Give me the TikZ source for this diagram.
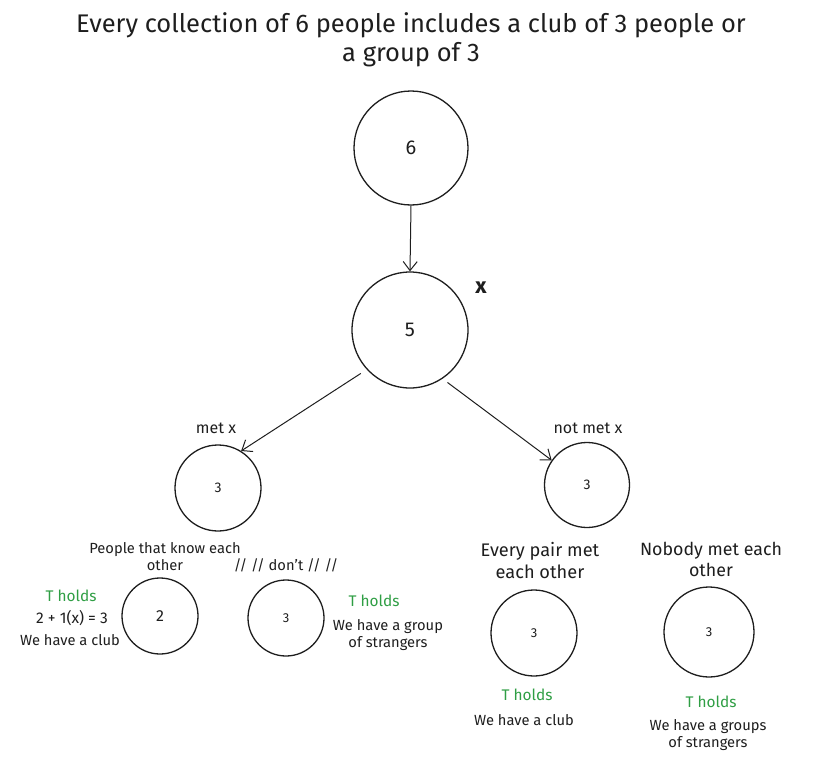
\documentclass[tikz,border=0pt]{standalone}
\usepackage{fontspec}
\setmainfont{Fira Sans}
\usetikzlibrary{arrows.meta}
\definecolor{exgreen}{HTML}{2F9E44}
\definecolor{ink}{HTML}{1E1E1E}
\tikzset{
  circ/.style={circle,draw=ink,line width=1.3pt,inner sep=0pt,text=ink},
  lbl/.style={text=ink,align=center,inner sep=0pt,font=\fontsize{14.7}{17}\selectfont},
  glbl/.style={text=exgreen,align=center,inner sep=0pt,font=\fontsize{15.4}{17}\selectfont},
  conn/.style={draw=ink,line width=1pt,-{Straight Barb[length=9pt,width=14pt,line width=1pt]}}
}
\begin{document}
\begin{tikzpicture}[x=1pt,y=-1pt]
\useasboundingbox (0,0) rectangle (822,784);
\node[lbl,font=\fontsize{25.5}{29}\selectfont] (title) at (411,40) {Every collection of 6 people includes a club of 3 people or\\a group of 3};
\node[circ,minimum size=114pt,font=\fontsize{20}{24}\selectfont] (n6) at (411,148) {6};
\node[circ,minimum size=116pt,font=\fontsize{20}{24}\selectfont] (n5) at (410,330) {5};
\node[lbl,font=\fontsize{22}{24}\selectfont\bfseries] (xm) at (481,288) {x};
\node[circ,minimum size=86pt,font=\fontsize{14}{17}\selectfont] (l3) at (218,488) {3};
\node[circ,minimum size=85pt,font=\fontsize{14}{17}\selectfont] (r3) at (587,485) {3};
\draw[conn] (n6.south) -- (n5.north);
\draw[conn] ([shift={(-5,5)}]n5.221) -- (l3.58);
\draw[conn] ([shift={(3,5)}]n5.-54) -- (r3.145);
\node[lbl,font=\fontsize{16}{18}\selectfont] (metx) at (216,428) {met x};
\node[lbl,font=\fontsize{16}{18}\selectfont] (notmetx) at (588,428) {not met x};
% left sub-branch
\node[lbl] (know) at (165,557) {People that know each\\other};
\node[lbl] (dont) at (286,565) {// // don't // //};
\node[circ,minimum size=76pt,font=\fontsize{16}{19}\selectfont] (c2) at (160,616) {2};
\node[circ,minimum size=76pt,font=\fontsize{13}{16}\selectfont] (c3a) at (286,618) {3};
\node[glbl] (th1) at (71,596) {T holds};
\node[lbl,font=\fontsize{15.5}{18}\selectfont] (eq) at (72,618) {2 + 1(x) = 3};
\node[lbl] (club1) at (70,640) {We have a club};
\node[glbl] (th2) at (374,601) {T holds};
\node[lbl] (str1) at (388,635) {We have a group\\of strangers};
% right sub-branch
\node[lbl,font=\fontsize{18.2}{22}\selectfont] (pair) at (540,561) {Every pair met\\each other};
\node[circ,minimum size=86pt,font=\fontsize{13}{16}\selectfont] (c3b) at (534,633) {3};
\node[glbl] (th3) at (527,695) {T holds};
\node[lbl] (club2) at (524,720) {We have a club};
\node[lbl,font=\fontsize{17.8}{21}\selectfont] (nobody) at (711,559) {Nobody met each\\other};
\node[circ,minimum size=90pt,font=\fontsize{13}{16}\selectfont] (c3c) at (709,632) {3};
\node[glbl] (th4) at (711,702) {T holds};
\node[lbl] (str2) at (708,735) {We have a groups\\of strangers};
\end{tikzpicture}
\end{document}
